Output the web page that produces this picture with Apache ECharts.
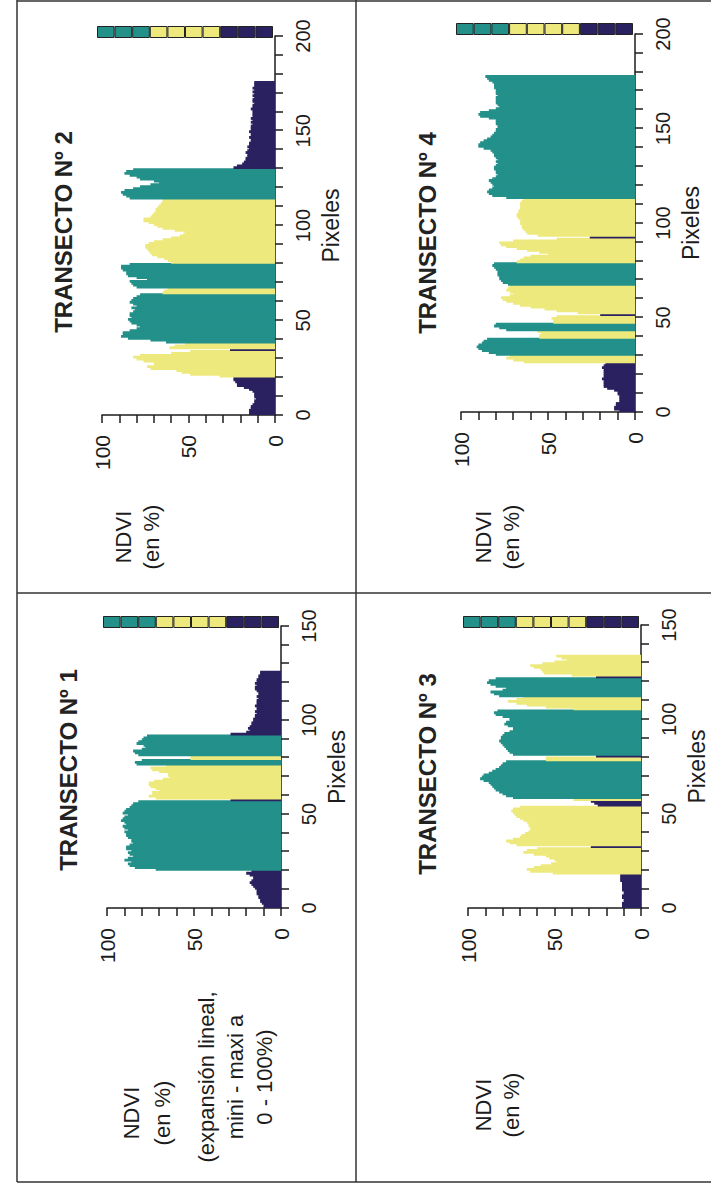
<!DOCTYPE html>
<html>
<head>
<meta charset="utf-8">
<script src="https://cdn.jsdelivr.net/npm/echarts@6/dist/echarts.min.js"></script>
<style>
  html, body { margin: 0; padding: 0; background: #fff; }
  body { width: 711px; height: 1185px; overflow: hidden; position: relative; }
  /* the figure is laid out upright, then turned a quarter turn like the printed page */
  #chart {
    position: absolute; left: 0; top: 0;
    width: 1185px; height: 711px;
    transform-origin: 0 0;
    transform: translate(0, 1185px) rotate(-90deg);
  }
</style>
</head>
<body>
<div id="chart"></div>
<script>
// NDVI (%) per pixel along each transect
const T1_NDVI = [
  10,10,11,12,12,13,13,14,14,14,15,16,17,18,17,16,16,18,20,17,
  72,84,87,88,86,90,88,85,87,88,86,89,89,87,85,86,86,88,89,89,90,88,90,91,89,90,92,91,90,88,91,90,89,87,86,85,82,
  29,
  72,76,74,74,70,72,75,76,76,73,68,64,65,65,70,74,75,66,
  83,84,80,
  52,52,
  82,84,85,80,78,79,83,82,80,79,77,
  29,20,18,19,18,17,17,16,16,15,15,14,15,14,14,15,14,14,14,13,14,13,13,14,15,15,14,15,14,14,13,13,12,12
];
// land class runs: [first pixel, last pixel, class]  n = bare/water, y = yellow class, t = teal class
const T1_CLASS = [[0,19,'n'],[20,56,'t'],[57,57,'n'],[58,75,'y'],[76,78,'t'],[79,80,'y'],[81,91,'t'],[92,125,'n']];

const T2_NDVI = [
  15,15,15,14,14,13,12,12,11,12,12,12,13,15,18,22,22,23,24,24,
  32,49,54,57,72,74,70,70,76,80,82,78,60,49,
  26,
  61,58,52,
  63,72,85,89,88,88,84,80,78,80,83,84,85,83,84,84,82,81,83,80,82,84,83,82,80,78,
  65,64,62,
  80,82,83,84,74,80,85,86,86,88,89,89,84,
  60,62,64,68,71,72,73,74,75,75,73,70,65,60,55,53,52,58,65,68,70,73,76,76,72,71,70,69,69,68,67,66,65,65,
  84,86,88,89,87,82,78,72,67,70,78,80,84,87,86,82,
  24,22,19,18,17,17,16,16,17,16,15,16,15,15,14,14,15,14,14,15,14,14,14,13,14,13,14,13,13,13,13,14,13,13,12,13,13,12,13,12,13,12,13,12,12,12
];
const T2_CLASS = [[0,19,'n'],[20,33,'y'],[34,34,'n'],[35,37,'y'],[38,63,'t'],[64,66,'y'],[67,79,'t'],[80,113,'y'],[114,129,'t'],[130,175,'n']];

const T3_NDVI = [
  11,11,11,10,10,11,11,10,10,11,11,11,11,11,12,12,12,12,
  51,64,66,62,58,52,49,50,53,55,62,68,66,60,
  29,
  72,76,78,74,70,69,67,65,64,64,65,65,66,68,70,72,73,74,75,74,70,
  25,27,29,
  39,
  74,78,80,82,84,85,86,87,88,91,93,92,91,88,86,84,82,81,80,78,
  55,55,
  26,
  74,76,77,78,79,80,81,82,81,81,80,79,76,74,74,77,79,78,76,76,80,84,85,83,
  39,55,66,72,77,72,68,
  82,85,87,80,78,84,87,89,88,84,
  26,
  40,56,57,58,62,64,57,50,43,46,49
];
const T3_CLASS = [[0,17,'n'],[18,31,'y'],[32,32,'n'],[33,53,'y'],[54,56,'n'],[57,57,'y'],[58,77,'t'],[78,79,'y'],[80,80,'n'],[81,104,'t'],[105,111,'y'],[112,121,'t'],[122,122,'n'],[123,133,'y']];

const T4_NDVI = [
  9,12,12,11,11,9,9,9,9,10,10,12,16,18,18,18,18,19,18,18,18,18,18,19,18,17,
  64,70,74,72,
  80,84,88,90,91,90,88,87,85,
  55,55,54,56,
  74,78,81,80,
  47,47,48,45,
  20,
  33,45,52,60,66,70,74,76,77,72,70,72,74,73,72,
  73,76,77,78,78,79,79,79,80,81,82,81,
  68,66,64,60,50,55,62,68,74,77,78,70,45,
  26,
  56,62,63,64,65,65,66,66,66,67,68,68,67,67,66,66,66,66,65,64,
  74,82,84,85,84,82,81,82,83,84,82,80,79,80,80,81,81,80,79,80,79,80,81,81,82,83,87,90,90,89,
  87,85,83,82,81,80,80,79,79,80,80,80,84,89,90,89,84,80,78,79,80,80,80,80,79,80,80,80,81,81,81,82,84,85,86
];
const T4_CLASS = [[0,25,'n'],[26,29,'y'],[30,38,'t'],[39,42,'y'],[43,46,'t'],[47,50,'y'],[51,51,'n'],[52,66,'y'],[67,78,'t'],[79,91,'y'],[92,92,'n'],[93,112,'y'],[113,177,'t']];

// colour key strip: one cell per 10 % of NDVI, from 0 up to 100
const STRIP_CLASS = ['n','n','n','y','y','y','y','t','t','t'];

const TITLES = ['TRANSECTO Nº 1', 'TRANSECTO Nº 2', 'TRANSECTO Nº 3', 'TRANSECTO Nº 4'];
const PIXEL_MAX = [150, 200, 150, 200];

const COLORS = { n: '#2a2160', y: '#eee97c', t: '#23908a' };
const FONT = '"Liberation Sans", Arial, Helvetica, sans-serif';
const INK = '#1c1c1c';

// layout of the upright figure (px)
const LAYOUT = [
  { grid: { left: 277, top: 107, width: 282, height: 174 }, strip: { left: 557, top: 103, width: 12, height: 176 }, title: [415, 68] },
  { grid: { left: 770, top: 102, width: 379, height: 173 }, strip: { left: 1147, top: 97, width: 12, height: 176 }, title: [953, 63] },
  { grid: { left: 277, top: 468, width: 283, height: 173 }, strip: { left: 557, top: 463, width: 12, height: 176 }, title: [411, 427] },
  { grid: { left: 773, top: 461, width: 378, height: 174 }, strip: { left: 1150, top: 456, width: 12, height: 177 }, title: [952, 427] }
];

const DATA = [[T1_NDVI, T1_CLASS], [T2_NDVI, T2_CLASS], [T3_NDVI, T3_CLASS], [T4_NDVI, T4_CLASS]];

function classAt(runs, p) {
  for (const r of runs) {
    if (p >= r[0] && p <= r[1]) return r[2];
  }
  return 'n';
}

const chart = echarts.init(document.getElementById('chart'), null, { renderer: 'svg' });

const grid = [], xAxis = [], yAxis = [], series = [], graphic = [];

LAYOUT.forEach((lay, i) => {
  grid.push(lay.grid);
  const max = PIXEL_MAX[i];

  // visible pixel axis
  xAxis.push({
    gridIndex: i, type: 'value', min: 0, max: max, interval: 10,
    axisLine: { show: true, lineStyle: { color: INK, width: 1.5 } },
    axisTick: { show: true, length: 8, lineStyle: { color: INK, width: 1.5 } },
    axisLabel: { formatter: v => (v % 50 === 0 ? String(v) : ''), fontSize: 20, margin: 18, color: INK, fontFamily: FONT },
    splitLine: { show: false },
    name: 'Pixeles', nameLocation: 'middle', nameGap: 44,
    nameTextStyle: { fontSize: 23, color: INK, fontFamily: FONT }
  });
  // hidden per-pixel band axis, one category per pixel
  xAxis.push({
    gridIndex: i, type: 'category', show: false, boundaryGap: true,
    data: Array.from({ length: max }, (_, k) => k)
  });
  yAxis.push({
    gridIndex: i, type: 'value', min: 0, max: 100, interval: 10,
    axisLine: { show: true, lineStyle: { color: INK, width: 1.5 } },
    axisTick: { show: true, length: 8, lineStyle: { color: INK, width: 1.5 } },
    axisLabel: { formatter: v => (v % 50 === 0 ? String(v) : ''), fontSize: 21, margin: 20, color: INK, fontFamily: FONT },
    splitLine: { show: false }
  });

  const vals = DATA[i][0], runs = DATA[i][1];
  series.push({
    type: 'bar', xAxisIndex: 2 * i + 1, yAxisIndex: i,
    // slightly wider than one pixel so neighbouring bars overlap and leave no hairline gaps
    barWidth: '150%', silent: true,
    data: vals.map((v, p) => ({ value: v, itemStyle: { color: COLORS[classAt(runs, p)] } }))
  });
});

// colour key strips
LAYOUT.forEach((lay, i) => {
  grid.push(lay.strip);
  xAxis.push({ gridIndex: 4 + i, type: 'value', min: 0, max: 1, show: false });
  yAxis.push({ gridIndex: 4 + i, type: 'category', show: false, boundaryGap: true, data: STRIP_CLASS.map((c, k) => k * 10) });
  series.push({
    type: 'bar', xAxisIndex: 8 + i, yAxisIndex: 4 + i,
    barCategoryGap: '0%', silent: true,
    data: STRIP_CLASS.map(c => ({ value: 1, itemStyle: { color: COLORS[c], borderColor: '#222', borderWidth: 1 } }))
  });
});

// titles
LAYOUT.forEach((lay, i) => {
  graphic.push({
    type: 'text', x: lay.title[0], y: lay.title[1],
    style: { text: TITLES[i], fill: '#222', font: 'bold 24px ' + FONT, align: 'center', verticalAlign: 'middle' }
  });
});

// NDVI axis captions
const caption = (x, y, text, lh) => ({
  type: 'text', x: x, y: y,
  style: { text: text, fill: INK, font: '22px ' + FONT, align: 'center', verticalAlign: 'middle', lineHeight: lh }
});
graphic.push(caption(72, 147, 'NDVI\n(en %)', 31));
graphic.push(caption(108, 235, '(expansión lineal,\nmini - maxi a\n0 - 100%)', 29));
graphic.push(caption(648, 137, 'NDVI\n(en %)', 28));
graphic.push(caption(80, 497, 'NDVI\n(en %)', 28));
graphic.push(caption(648, 497, 'NDVI\n(en %)', 28));

// panel frame
const line = (x1, y1, x2, y2, w) => ({
  type: 'line', shape: { x1, y1, x2, y2 }, style: { stroke: '#333', lineWidth: w || 1.5 }
});
graphic.push(line(3, 17, 1185, 17));
graphic.push(line(3, 17, 3, 711));
graphic.push(line(1184, 17, 1184, 711));
graphic.push(line(3, 356, 1185, 356));
graphic.push(line(592, 17, 592, 711));

chart.setOption({
  animation: false,
  backgroundColor: '#fff',
  grid, xAxis, yAxis, series, graphic
});
</script>
</body>
</html>
